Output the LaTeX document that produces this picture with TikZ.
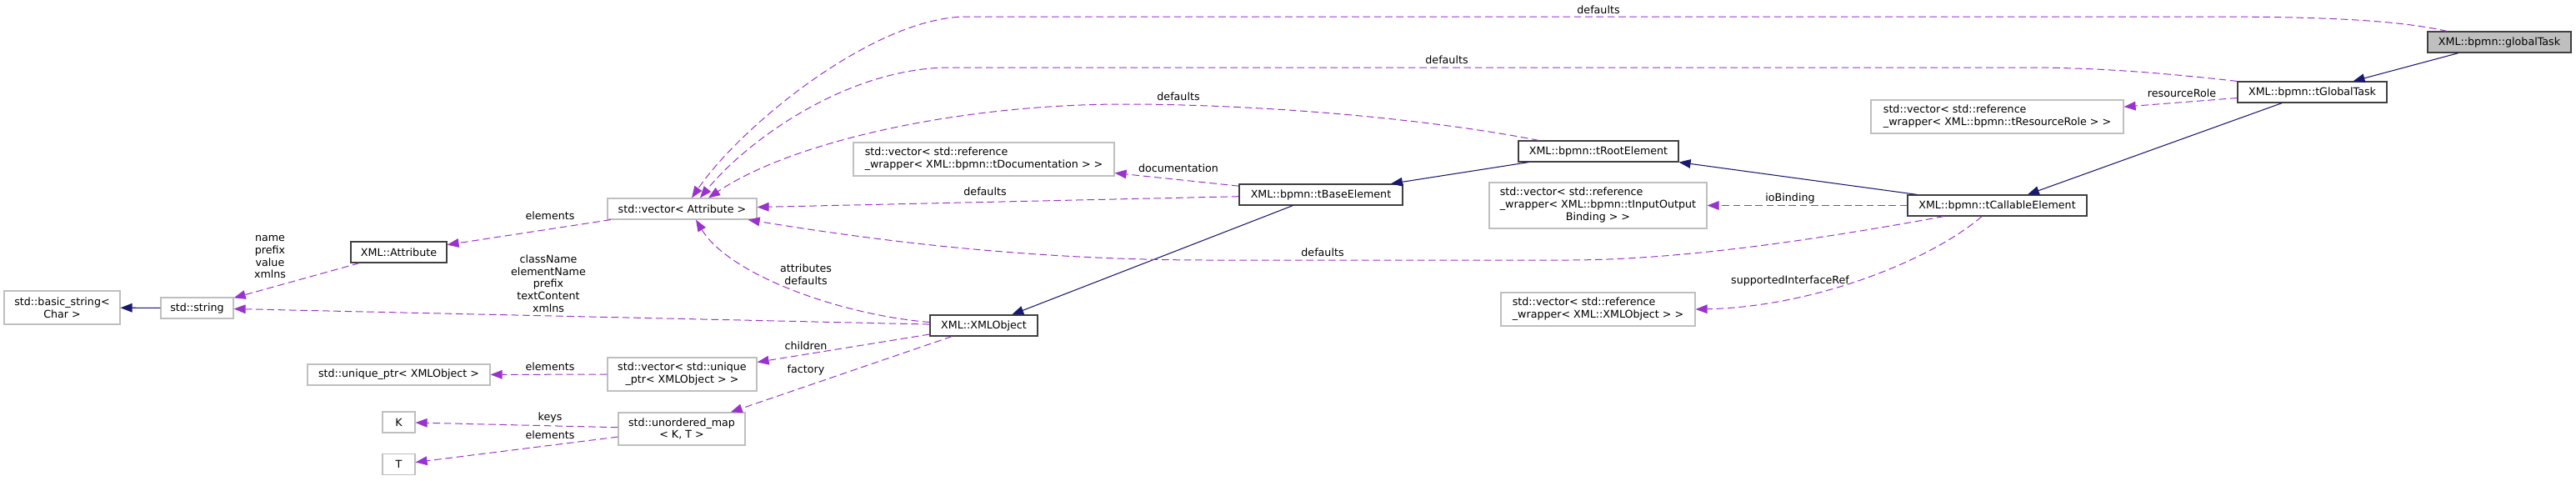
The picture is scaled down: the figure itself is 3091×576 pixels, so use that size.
\documentclass[tikz,border=0pt]{standalone}
\usepackage{fontspec}
\setmainfont{DejaVu Sans}
\usepackage{xcolor}
\usepackage{tikz}
\usetikzlibrary{arrows.meta, calc}

\definecolor{edgeuse}{RGB}{154,50,205}
\definecolor{edgeinh}{RGB}{25,25,112}
\definecolor{docgray}{RGB}{64,64,64}
\definecolor{extgray}{RGB}{191,191,191}
\newcommand{\dxfont}{\fontsize{9.5}{11}\selectfont}

\begin{document}
\begin{tikzpicture}[
  x=0.75pt, y=-0.75pt,
  cls/.style={rectangle, draw=docgray, line width=0.9pt, fill=white, minimum height=18.75pt, inner sep=0pt, font=\dxfont},
  ext/.style={cls, draw=extgray},
  main/.style={cls, fill=extgray},
  lbl/.style={inner sep=0pt, font=\dxfont, align=center},
  usage/.style={-{Triangle[length=10.5pt, width=8pt]}, draw=edgeuse, line width=0.75pt, dash pattern=on 6.5pt off 3.5pt},
  inherit/.style={-{Triangle[length=10.5pt, width=8pt]}, draw=edgeinh, line width=0.8pt}
]
  \useasboundingbox (0,0) rectangle (3091,576);

  \node[main, minimum width=129pt] (gtask) at (2999,50.5) {XML::bpmn::globalTask};
  \node[cls, minimum width=134.25pt] (tglobal) at (2774.5,110.5) {XML::bpmn::tGlobalTask};
  \node[ext, minimum width=227.25pt, minimum height=30pt, align=left] (vres) at (2396.5,140) {std::vector< std::reference\\\_wrapper< XML::bpmn::tResourceRole > >};
  \node[cls, minimum width=144pt] (troot) at (1918,181.5) {XML::bpmn::tRootElement};
  \node[cls, minimum width=161.25pt] (tcall) at (2396.5,246.5) {XML::bpmn::tCallableElement};
  \node[ext, minimum width=195.75pt, minimum height=41.25pt] (vio) at (1917.5,246.5) {\begin{tabular}{@{}l@{}}std::vector< std::reference\\\_wrapper< XML::bpmn::tInputOutput\\\multicolumn{1}{@{}c@{}}{Binding > >}\end{tabular}};
  \node[ext, minimum width=174.75pt, minimum height=30pt, align=left] (vxmlobj) at (1917.5,371) {std::vector< std::reference\\\_wrapper< XML::XMLObject > >};
  \node[ext, minimum width=234.75pt, minimum height=30pt, align=left] (vdoc) at (1180.5,191) {std::vector< std::reference\\\_wrapper< XML::bpmn::tDocumentation > >};
  \node[cls, minimum width=147pt] (tbase) at (1585,233.5) {XML::bpmn::tBaseElement};
  \node[ext, minimum width=134.25pt] (vattr) at (818.5,250.5) {std::vector< Attribute >};
  \node[cls, minimum width=86.25pt] (xattr) at (478.5,302.5) {XML::Attribute};
  \node[ext, minimum width=65.25pt] (sstring) at (236.5,369.5) {std::string};
  \node[ext, minimum width=104.25pt, minimum height=30pt, align=center] (bstring) at (74.5,369) {std::basic\_string<\\Char >};
  \node[cls, minimum width=96.75pt] (xmlobj) at (1180.5,390.5) {XML::XMLObject};
  \node[ext, minimum width=134.25pt, minimum height=30pt, align=center] (vuniq) at (818.5,449) {std::vector< std::unique\\\_ptr< XMLObject > >};
  \node[ext, minimum width=164.25pt] (uptr) at (478.5,449.5) {std::unique\_ptr< XMLObject >};
  \node[ext, minimum width=114pt, minimum height=29.25pt, align=center] (umap) at (818,514.5) {std::unordered\_map\\< K, T >};
  \node[ext, minimum width=29.25pt] (K) at (478.5,506.5) {K};
  \node[ext, minimum width=29.25pt] (T) at (478.5,557) {T};

  \draw[inherit] (gtask) -- (tglobal);
  \draw[inherit] (tglobal) -- (tcall);
  \draw[inherit] (tcall) -- (troot);
  \draw[inherit] (troot) -- (tbase);
  \draw[inherit] (tbase) -- (xmlobj);
  \draw[inherit] (sstring) -- (bstring);

  \draw[usage] ($(gtask.north west)+(24,0)$) .. controls (2880,25) and (2800,20) .. (2650,20) -- (1160,20) .. controls (1050,20) and (890,150) .. ($(vattr.north)+(11.5,0)$);
  \draw[usage] (tglobal.north west) .. controls (2600,88) and (2520,81) .. (2430,81) -- (1140,81) .. controls (1020,81) and (900,165) .. ($(vattr.north)+(21.5,0)$);
  \draw[usage] ($(troot.north west)+(25,0)$) .. controls (1700,140) and (1500,125) .. (1349,125) .. controls (1150,125) and (950,170) .. ($(vattr.north)+(31.5,0)$);
  \draw[usage] (tglobal) -- (vres);
  \draw[usage] (tcall) -- (vio);
  \draw[usage] ($(tcall.south)+(-18.5,0)$) .. controls (2320,310) and (2180,368) .. (vxmlobj.east);
  \draw[usage] ($(tcall.south west)+(44,0)$) .. controls (2150,293) and (2000,312) .. (1880,312) -- (1450,312) .. controls (1200,312) and (1000,280) .. ($(vattr.south east)+(-11,0)$);
  \draw[usage] (tbase) -- (vdoc);
  \draw[usage] (tbase) -- (vattr);
  \draw[usage] ($(xmlobj.west)+(0,-4)$) .. controls (1010,378) and (875,330) .. ($(vattr.south)+(16.5,0)$);
  \draw[usage] (vattr) -- (xattr);
  \draw[usage] (xattr) -- (sstring);
  \draw[usage] (xmlobj) -- (sstring);
  \draw[usage] (xmlobj) -- (vuniq);
  \draw[usage] (xmlobj) -- (umap);
  \draw[usage] (vuniq) -- (uptr);
  \draw[usage] (umap) -- (K);
  \draw[usage] (umap) -- (T);

  \node[lbl] (l-gdef) at (1918,12) {defaults};
  \node[lbl] (l-tgdef) at (1736,72) {defaults};
  \node[lbl] (l-trdef) at (1414,116) {defaults};
  \node[lbl] (l-doc) at (1414,202) {documentation};
  \node[lbl] (l-tbdef) at (1182,230) {defaults};
  \node[lbl] (l-tcdef) at (1587,303) {defaults};
  \node[lbl] (l-attr) at (967,329.5) {attributes\\defaults};
  \node[lbl] (l-elem1) at (660,259) {elements};
  \node[lbl] (l-names) at (324,308.5) {name\\prefix\\value\\xmlns};
  \node[lbl] (l-cls) at (658,340) {className\\elementName\\prefix\\textContent\\xmlns};
  \node[lbl] (l-child) at (967,415) {children};
  \node[lbl] (l-fact) at (967,444) {factory};
  \node[lbl] (l-elem2) at (660,440) {elements};
  \node[lbl] (l-keys) at (660,501) {keys};
  \node[lbl] (l-elem3) at (660,522) {elements};
  \node[lbl] (l-res) at (2618,112) {resourceRole};
  \node[lbl] (l-iob) at (2148,238) {ioBinding};
  \node[lbl] (l-sir) at (2148,337) {supportedInterfaceRef};
\end{tikzpicture}
\end{document}
